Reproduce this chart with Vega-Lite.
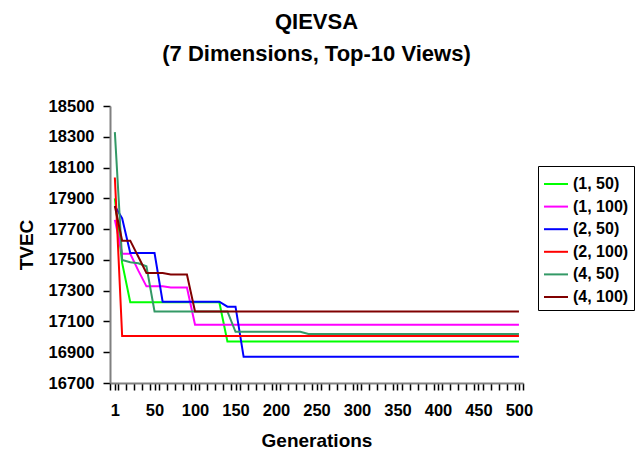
{
  "$schema": "https://vega.github.io/schema/vega-lite/v6.json",
  "width": 413,
  "height": 277,
  "autosize": {"type": "none"},
  "padding": {"left": 110, "top": 106, "right": 119, "bottom": 67},
  "background": "white",
  "title": {
    "text": ["QIEVSA", "(7 Dimensions, Top-10 Views)"],
    "font": "Liberation Sans",
    "fontSize": 22,
    "fontWeight": "bold",
    "color": "black",
    "lineHeight": 32,
    "anchor": "middle",
    "offset": 32
  },
  "config": {
    "view": {"stroke": null},
    "axis": {
      "labelFont": "Liberation Sans",
      "labelFontSize": 16.5,
      "labelFontWeight": "bold",
      "labelColor": "black",
      "titleFont": "Liberation Sans",
      "titleFontSize": 19,
      "titleFontWeight": "bold",
      "titleColor": "black",
      "domainColor": "#808080",
      "domainWidth": 2,
      "ticks": true,
      "tickColor": "#000000",
      "tickWidth": 1.5,
      "tickSize": 7,
      "tickOpacity": 1,
      "grid": false
    }
  },
  "data": {
    "values": [
      {"series": "(1, 50)", "gen": 1, "tvec": 17900},
      {"series": "(1, 50)", "gen": 10, "tvec": 17480},
      {"series": "(1, 50)", "gen": 20, "tvec": 17225},
      {"series": "(1, 50)", "gen": 130, "tvec": 17225},
      {"series": "(1, 50)", "gen": 140, "tvec": 16970},
      {"series": "(1, 50)", "gen": 500, "tvec": 16970},

      {"series": "(1, 100)", "gen": 1, "tvec": 17760},
      {"series": "(1, 100)", "gen": 10, "tvec": 17540},
      {"series": "(1, 100)", "gen": 20, "tvec": 17540},
      {"series": "(1, 100)", "gen": 30, "tvec": 17430},
      {"series": "(1, 100)", "gen": 40, "tvec": 17328},
      {"series": "(1, 100)", "gen": 60, "tvec": 17328},
      {"series": "(1, 100)", "gen": 70, "tvec": 17320},
      {"series": "(1, 100)", "gen": 90, "tvec": 17320},
      {"series": "(1, 100)", "gen": 100, "tvec": 17078},
      {"series": "(1, 100)", "gen": 500, "tvec": 17078},

      {"series": "(2, 50)", "gen": 1, "tvec": 17850},
      {"series": "(2, 50)", "gen": 10, "tvec": 17770},
      {"series": "(2, 50)", "gen": 20, "tvec": 17545},
      {"series": "(2, 50)", "gen": 50, "tvec": 17545},
      {"series": "(2, 50)", "gen": 60, "tvec": 17228},
      {"series": "(2, 50)", "gen": 130, "tvec": 17228},
      {"series": "(2, 50)", "gen": 140, "tvec": 17196},
      {"series": "(2, 50)", "gen": 150, "tvec": 17196},
      {"series": "(2, 50)", "gen": 160, "tvec": 16870},
      {"series": "(2, 50)", "gen": 500, "tvec": 16870},

      {"series": "(2, 100)", "gen": 1, "tvec": 18035},
      {"series": "(2, 100)", "gen": 10, "tvec": 17005},
      {"series": "(2, 100)", "gen": 500, "tvec": 17005},

      {"series": "(4, 50)", "gen": 1, "tvec": 18330},
      {"series": "(4, 50)", "gen": 10, "tvec": 17500},
      {"series": "(4, 50)", "gen": 20, "tvec": 17485},
      {"series": "(4, 50)", "gen": 30, "tvec": 17478},
      {"series": "(4, 50)", "gen": 40, "tvec": 17458},
      {"series": "(4, 50)", "gen": 50, "tvec": 17165},
      {"series": "(4, 50)", "gen": 140, "tvec": 17165},
      {"series": "(4, 50)", "gen": 150, "tvec": 17033},
      {"series": "(4, 50)", "gen": 230, "tvec": 17033},
      {"series": "(4, 50)", "gen": 240, "tvec": 17018},
      {"series": "(4, 50)", "gen": 500, "tvec": 17018},

      {"series": "(4, 100)", "gen": 1, "tvec": 17850},
      {"series": "(4, 100)", "gen": 10, "tvec": 17625},
      {"series": "(4, 100)", "gen": 20, "tvec": 17625},
      {"series": "(4, 100)", "gen": 30, "tvec": 17520},
      {"series": "(4, 100)", "gen": 40, "tvec": 17415},
      {"series": "(4, 100)", "gen": 60, "tvec": 17415},
      {"series": "(4, 100)", "gen": 70, "tvec": 17405},
      {"series": "(4, 100)", "gen": 90, "tvec": 17405},
      {"series": "(4, 100)", "gen": 100, "tvec": 17165},
      {"series": "(4, 100)", "gen": 500, "tvec": 17165}
    ]
  },
  "mark": {"type": "line", "strokeWidth": 2, "interpolate": "linear"},
  "encoding": {
    "x": {
      "field": "gen",
      "type": "quantitative",
      "scale": {"domain": [-5, 505], "nice": false, "zero": false},
      "axis": {
        "title": "Generations",
        "values": [-5, 1, 5, 15, 25, 35, 45, 50, 55, 65, 75, 85, 95, 100, 105, 115, 125, 135, 145, 150, 155, 165, 175, 185, 195, 200, 205, 215, 225, 235, 245, 250, 255, 265, 275, 285, 295, 300, 305, 315, 325, 335, 345, 350, 355, 365, 375, 385, 395, 400, 405, 415, 425, 435, 445, 450, 455, 465, 475, 485, 495, 500, 505],
        "labelExpr": "(datum.value == 1 || datum.value % 50 == 0) ? datum.label : ''",
        "labelOverlap": false,
        "labelFlush": false,
        "labelPadding": 12,
        "format": "d",
        "titleY": 63,
        "titleBaseline": "alphabetic"
      }
    },
    "y": {
      "field": "tvec",
      "type": "quantitative",
      "scale": {"domain": [16700, 18500], "nice": false, "zero": false},
      "axis": {
        "title": "TVEC",
        "values": [16700, 16900, 17100, 17300, 17500, 17700, 17900, 18100, 18300, 18500],
        "format": "d",
        "labelPadding": 9,
        "titleX": -74,
        "titleY": 138.5
      }
    },
    "color": {
      "field": "series",
      "type": "nominal",
      "scale": {
        "domain": ["(1, 50)", "(1, 100)", "(2, 50)", "(2, 100)", "(4, 50)", "(4, 100)"],
        "range": ["#00FF00", "#FF00FF", "#0000FF", "#FF0000", "#339966", "#800000"]
      },
      "legend": {
        "title": null,
        "orient": "none",
        "legendX": 428,
        "legendY": 60,
        "symbolType": "stroke",
        "symbolSize": 576,
        "symbolStrokeWidth": 2,
        "labelFont": "Liberation Sans",
        "labelFontSize": 16,
        "labelFontWeight": "bold",
        "labelColor": "black",
        "strokeColor": "black",
        "fillColor": "white",
        "padding": 5,
        "rowPadding": 1.6,
        "labelOffset": 4
      }
    }
  }
}
